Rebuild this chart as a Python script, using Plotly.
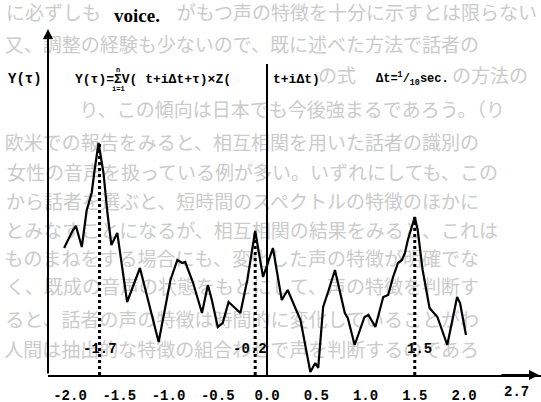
import plotly.graph_objects as go

# ---- data (tau in seconds, Y in arbitrary units) ----
tau = [-2.06, -1.97, -1.94, -1.88, -1.83, -1.78, -1.75, -1.71, -1.66, -1.62, -1.58, -1.52,
       -1.42, -1.29, -1.10, -0.98, -0.91, -0.86, -0.83, -0.75, -0.66, -0.60, -0.56, -0.50,
       -0.45, -0.39, -0.27, -0.20, -0.12, -0.04, 0.06, 0.15, 0.21, 0.26, 0.34, 0.44, 0.49,
       0.52, 0.57, 0.62, 0.69, 0.79, 0.82, 0.89, 0.99, 1.03, 1.10, 1.18, 1.23, 1.28, 1.33,
       1.37, 1.40, 1.43, 1.47, 1.50, 1.53, 1.58, 1.65, 1.73, 1.83, 1.93, 1.96, 2.02]
y_tau = [1.27, 1.45, 1.49, 1.28, 1.65, 1.82, 2.05, 2.32, 2.02, 1.62, 1.30, 1.42,
         0.73, 1.07, 0.33, 0.95, 1.15, 1.12, 1.13, 0.92, 0.62, 0.90, 0.75, 0.48,
         0.52, 0.73, 0.62, 0.95, 1.44, 0.98, 1.27, 0.75, 0.85, 0.73, 0.55, 0.03, 0.12,
         0.07, 0.68, 0.83, 1.05, 0.62, 0.57, 0.30, 0.58, 0.60, 0.48, 0.78, 0.80, 0.98, 1.12,
         1.15, 1.22, 1.35, 1.48, 1.58, 1.45, 1.05, 0.67, 0.58, 0.30, 0.78, 0.72, 0.40]

peak_tau = [-1.70, -0.12, 1.50]
peak_val = [2.32, 1.44, 1.58]
peak_labels = ["-1.7", "-0.2", "1.5"]
peak_label_tau = [-1.70, -0.17, 1.55]

tick_vals = [-2.0, -1.5, -1.0, -0.5, 0.0, 0.5, 1.0, 1.5, 2.0]
tick_text = ["-2.0", "-1.5", "-1.0", "-0.5", "0.0", "0.5", "1.0", "1.5", "2.0"]

# ---- pixel helpers for placing text ----
PX0, SX, PY0, SY = 267.0, 98.5, 375.0, 100.0
L, R, T, B = 48, 0, 0, 27
W, H = 541, 402
def xd(px):
    return (px - PX0) / SX
def yd(py):
    return (PY0 - py) / SY
def xp(px):
    return (px - L) / (W - L - R)
def yp(py):
    return (H - B - py) / (H - B - T)

MONO = "Liberation Mono"
JP = "Noto Sans CJK JP"
FADE = "#cbcbcb"
JP_SIZE = 19

# faded page text behind the chart (y px, x px of first char, text)
bg_lines = [
    (15, 6, "に必ずしも"),
    (15, 176, "がもつ声の特徴を十分に示すとは限らない"),
    (47, 4, "又、調整の経験も少ないので、既に述べた方法で話者の"),
    (78, 318, "の式"),
    (78, 452, "の方法の"),
    (112, 68, "り、この傾向は日本でも今後強まるであろう。（り"),
    (145, 4, "欧米での報告をみると、相互相関を用いた話者の識別の"),
    (175, 4, "女性の音声を扱っている例が多い。いずれにしても、この"),
    (204, 4, "から話者を選ぶと、短時間のスペクトルの特徴のほかに"),
    (233, 4, "とみなすことになるが、相互相関の結果をみると、これは"),
    (261, 4, "ものまねをする場合にも、変化した声の特徴が明確でな"),
    (289, 4, "く、既成の音声の状態をもとにして、声の特徴を判断す"),
    (322, 4, "ると、話者の声の特徴は時間的に変化していることがわ"),
    (352, 4, "人間は抽出的な特徴の組合わせで声を判断するのであろ"),
]

fig = go.Figure()

# anchored at the right end of each line (inside the axes) so it is drawn
fig.add_trace(go.Scatter(
    x=[xd(min(l[1] + JP_SIZE * len(l[2]), 540)) for l in bg_lines],
    y=[yd(l[0]) for l in bg_lines],
    text=[l[2] for l in bg_lines], mode="text", textposition="middle left",
    textfont=dict(family=JP, size=JP_SIZE, color=FADE), cliponaxis=False,
    hoverinfo="skip", showlegend=False))

# dotted peak markers
for pt, pv in zip(peak_tau, peak_val):
    fig.add_trace(go.Scatter(x=[pt, pt], y=[0, pv], mode="lines",
                             line=dict(color="black", width=3, dash="dot"),
                             showlegend=False, hoverinfo="skip"))

# correlation curve
fig.add_trace(go.Scatter(x=tau, y=y_tau, mode="lines",
                         line=dict(color="black", width=2.2),
                         showlegend=False))

def txt(px, py, s, size=14, family=MONO, anchor="center"):
    return dict(x=xp(px), y=yp(py), xref="paper", yref="paper", xanchor=anchor,
                yanchor="middle", text=s, showarrow=False,
                font=dict(family=family, size=size, color="black"))

annotations = []
# y axis with arrow
annotations.append(dict(x=xd(48), y=yd(29), ax=xd(48), ay=0, xref="x", yref="y",
                        axref="x", ayref="y", showarrow=True, arrowhead=2,
                        arrowwidth=2, arrowsize=1, arrowcolor="black", text=""))
# x axis arrow head
annotations.append(dict(x=xd(539), y=0, ax=xd(500), ay=0, xref="x", yref="y",
                        axref="x", ayref="y", showarrow=True, arrowhead=2,
                        arrowwidth=2, arrowsize=1, arrowcolor="black", text=""))
# peak labels
for lt, lab in zip(peak_label_tau, peak_labels):
    annotations.append(dict(x=lt, y=yd(349), xref="x", yref="y", yanchor="middle",
                            text="<b>%s</b>" % lab, showarrow=False,
                            font=dict(family=MONO, size=14, color="black")))
# extra axis-end label
annotations.append(txt(516, 392, "<b>2.7</b>"))
# axis title
annotations.append(txt(25, 79, "<b>Y(τ)</b>"))
# formula (split around the zero line as on the page)
annotations.append(txt(73, 79, "<b>Y(τ)=ΣV( t+iΔt+τ)×Z(</b>", size=13, anchor="left"))
annotations.append(txt(271, 79, "<b>t+iΔt)</b>", size=13, anchor="left"))
annotations.append(txt(118, 70, "<b>n</b>", size=7))
annotations.append(txt(118, 89, "<b>i=1</b>", size=7))
annotations.append(txt(374, 79, "<b>Δt=<sup>1</sup>/<sub>10</sub>sec.</b>", size=12, anchor="left"))
# bold word of the page text
annotations.append(txt(112, 15, "<b>voice.</b>", size=19, family="Liberation Serif", anchor="left"))

fig.update_layout(
    template="none",
    width=W, height=H,
    margin=dict(l=L, r=R, t=T, b=B, pad=0, autoexpand=False),
    paper_bgcolor="white", plot_bgcolor="rgba(0,0,0,0)",
    showlegend=False,
    xaxis=dict(range=[xd(L), xd(W - R)], showline=True, linecolor="black", linewidth=2,
               showgrid=False, zeroline=False, ticks="outside", ticklen=6, tickwidth=1,
               tickcolor="rgba(0,0,0,0)", tickvals=tick_vals, ticktext=tick_text,
               automargin=False,
               tickfont=dict(family=MONO, size=14, color="black", weight="bold")),
    yaxis=dict(range=[0, (H - B - T) / SY], visible=False, automargin=False),
    shapes=[dict(type="line", xref="x", yref="y", x0=0, x1=0, y0=0, y1=yd(64),
                 line=dict(color="black", width=2))],
    annotations=annotations,
)

fig.write_html("out.html", config={"displayModeBar": False},
               post_script="document.body.style.margin='0';document.body.style.overflow='hidden';")
